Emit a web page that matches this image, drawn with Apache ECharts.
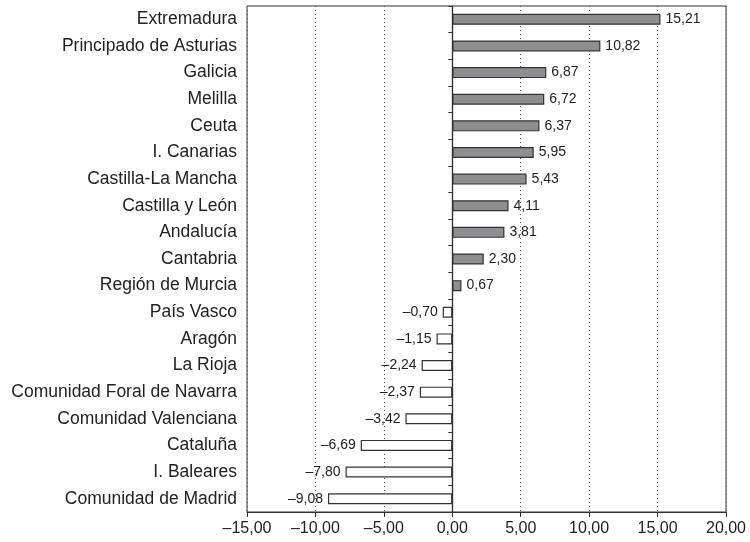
<!DOCTYPE html>
<html>
<head>
<meta charset="utf-8">
<script src="https://cdn.jsdelivr.net/npm/echarts@6/dist/echarts.min.js"></script>
<style>html,body{margin:0;padding:0;background:#fff}#c{width:750px;height:542px}</style>
</head>
<body>
<div id="c"></div>
<script>
// Regions, top to bottom
const regions = [
  'Extremadura', 'Principado de Asturias', 'Galicia', 'Melilla', 'Ceuta',
  'I. Canarias', 'Castilla-La Mancha', 'Castilla y León', 'Andalucía',
  'Cantabria', 'Región de Murcia', 'País Vasco', 'Aragón', 'La Rioja',
  'Comunidad Foral de Navarra', 'Comunidad Valenciana', 'Cataluña',
  'I. Baleares', 'Comunidad de Madrid'
];
const values = [
  15.21, 10.82, 6.87, 6.72, 6.37, 5.95, 5.43, 4.11, 3.81, 2.30, 0.67,
  -0.70, -1.15, -2.24, -2.37, -3.42, -6.69, -7.80, -9.08
];
const xTicks = [-15, -10, -5, 0, 5, 10, 15, 20];

const fmt = v => (v < 0 ? '\u2013' : '') + Math.abs(v).toFixed(2).replace('.', ',');
const font = 'Liberation Sans, Arial, sans-serif';

const chart = echarts.init(document.getElementById('c'), null, { renderer: 'canvas' });
chart.setOption({
  animation: false,
  grid: { left: 247, right: 24, top: 6, bottom: 30, show: true, borderColor: '#333', borderWidth: 1 },
  xAxis: {
    type: 'value', min: xTicks[0], max: xTicks[xTicks.length - 1], interval: 5,
    axisLine: { show: true, onZero: false, lineStyle: { color: '#333' } },
    axisTick: { show: true, length: 5, lineStyle: { color: '#333' } },
    axisLabel: { formatter: fmt, color: '#222', fontSize: 16, fontFamily: font, margin: 9 },
    splitLine: { show: true, lineStyle: { type: [1, 3], color: '#555', width: 1 } }
  },
  yAxis: [
    {
      // region names along the left edge of the frame
      type: 'category', data: regions, inverse: true, position: 'left',
      axisLine: { show: false, onZero: false }, axisTick: { show: false },
      axisLabel: { color: '#222', fontSize: 17.5, fontFamily: font, margin: 10 }
    },
    {
      // zero line with category ticks pointing left
      type: 'category', data: regions, inverse: true, position: 'right', z: 10,
      axisLine: { show: true, onZero: true, onZeroAxisIndex: 0, lineStyle: { color: '#333', width: 1.2 } },
      axisTick: { show: true, inside: true, length: 4, lineStyle: { color: '#333' } },
      axisLabel: { show: false }
    }
  ],
  series: [{
    type: 'bar', yAxisIndex: 0, barWidth: 11,
    data: values.map(v => ({
      value: v,
      itemStyle: { color: v >= 0 ? '#8e8e90' : '#ffffff', borderColor: '#333', borderWidth: 1.2 },
      label: { position: v >= 0 ? 'right' : 'left' }
    })),
    label: {
      show: true, formatter: p => fmt(p.value), color: '#222',
      fontSize: 14, fontFamily: font, distance: 5
    },
    markLine: {
      silent: true, symbol: 'none', label: { show: false },
      lineStyle: { type: 'solid', color: '#333', width: 1.2 },
      data: [{ xAxis: 0 }]
    }
  }]
});
</script>
</body>
</html>
